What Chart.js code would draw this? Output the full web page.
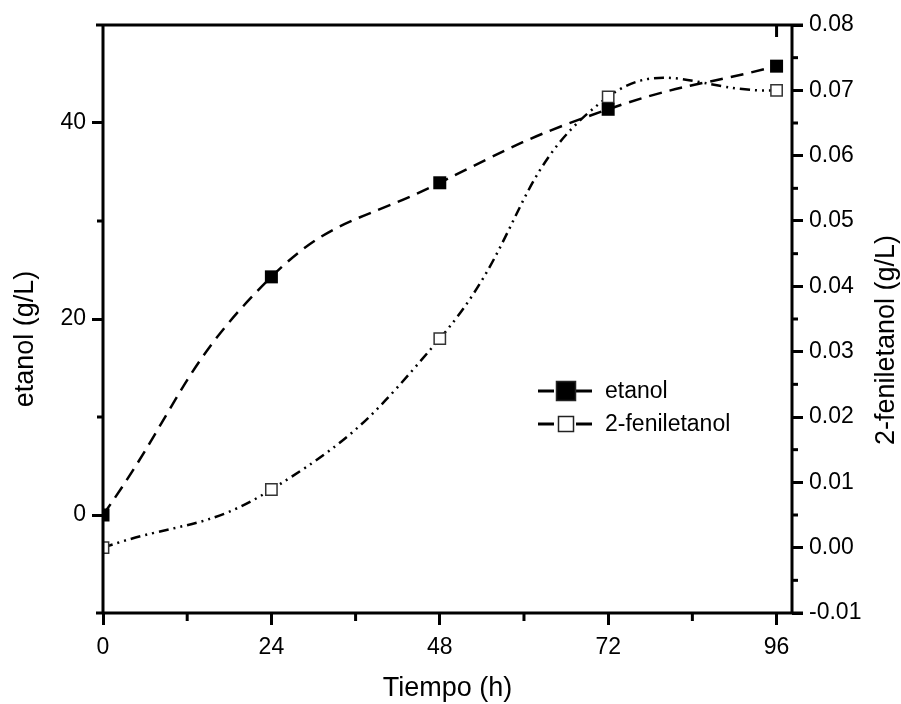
<!DOCTYPE html>
<html>
<head>
<meta charset="utf-8">
<script src="https://cdn.jsdelivr.net/npm/chart.js@4.4.1/dist/chart.umd.min.js"></script>
<style>
  html, body { margin: 0; padding: 0; background: #fff; }
  canvas { display: block; }
</style>
</head>
<body>
<canvas id="chart" width="901" height="704"></canvas>
<script>
// data
const horas = [0, 24, 48, 72, 96];
const etanol = [0, 24.3, 33.9, 41.4, 45.8];
const feniletanol = [0, 0.0089, 0.032, 0.069, 0.070];

// axis ticks
const xTicks = [0, 24, 48, 72, 96];
const etanolTicks = [0, 20, 40];
const fenilTicks = [-0.01, 0, 0.01, 0.02, 0.03, 0.04, 0.05, 0.06, 0.07, 0.08];

const FONT = "'Liberation Sans', Arial, sans-serif";

function pts(xs, ys) {
  return xs.map((x, i) => ({ x: x, y: ys[i] }));
}

// frame, minor ticks, axis titles and legend (Origin style)
const originFrame = {
  id: 'originFrame',
  afterDraw(chart) {
    const { ctx, chartArea: a, scales } = chart;
    const sx = scales.x, sy = scales.y, sy2 = scales.y2;
    const line = (x1, y1, x2, y2) => {
      ctx.beginPath(); ctx.moveTo(x1, y1); ctx.lineTo(x2, y2); ctx.stroke();
    };
    ctx.save();
    ctx.strokeStyle = '#000';
    ctx.lineWidth = 3;
    line(a.left - 7, a.top, a.right + 11, a.top);
    line(a.left - 7, a.bottom, a.right + 11, a.bottom);
    line(a.left, a.top, a.left, a.bottom);
    line(a.right, a.top, a.right, a.bottom);

    // minor ticks
    [12, 36, 60, 84].forEach(v => {
      const px = sx.getPixelForValue(v);
      line(px, a.bottom, px, a.bottom + 8);
    });
    [10, 30].forEach(v => {
      const py = sy.getPixelForValue(v);
      line(a.left - 6, py, a.left, py);
    });
    for (let k = 0; k < 9; k++) {
      const py = sy2.getPixelForValue(-0.005 + 0.01 * k);
      line(a.right, py, a.right + 6, py);
    }
    // top axis tick at 96
    const p96 = sx.getPixelForValue(96);
    line(p96, a.top, p96, a.top + 12);

    // axis titles
    ctx.fillStyle = '#000';
    ctx.font = '27px ' + FONT;
    ctx.textAlign = 'center';
    ctx.textBaseline = 'middle';
    ctx.fillText('Tiempo (h)', (a.left + a.right) / 2, 689);
    ctx.save();
    ctx.translate(26, 339);
    ctx.rotate(-Math.PI / 2);
    ctx.fillText('etanol (g/L)', 0, 0);
    ctx.restore();
    ctx.save();
    ctx.translate(887, 340);
    ctx.rotate(-Math.PI / 2);
    ctx.fillText('2-feniletanol (g/L)', 0, 0);
    ctx.restore();

    // legend
    const rows = [
      { y: 391, label: 'etanol', fill: '#000', size: 19 },
      { y: 424, label: '2-feniletanol', fill: '#fff', size: 15 }
    ];
    ctx.font = '23px ' + FONT;
    ctx.textAlign = 'left';
    rows.forEach(r => {
      ctx.lineWidth = 3;
      ctx.strokeStyle = '#000';
      line(538, r.y, 554, r.y);
      line(576, r.y, 592, r.y);
      ctx.fillStyle = r.fill;
      ctx.fillRect(566 - r.size / 2, r.y - r.size / 2, r.size, r.size);
      ctx.lineWidth = 1.5;
      ctx.strokeStyle = '#222';
      ctx.strokeRect(566 - r.size / 2, r.y - r.size / 2, r.size, r.size);
      ctx.fillStyle = '#000';
      ctx.fillText(r.label, 605, r.y + 1);
    });
    ctx.restore();
  }
};

const tickGrid = (len) => ({
  display: true,
  drawOnChartArea: false,
  drawTicks: true,
  tickLength: len,
  tickWidth: 3,
  tickColor: '#000'
});

new Chart(document.getElementById('chart'), {
  type: 'line',
  data: {
    datasets: [
      {
        label: 'etanol',
        data: pts(horas, etanol),
        yAxisID: 'y',
        borderColor: '#000',
        borderWidth: 2.5,
        borderDash: [13, 8],
        tension: 0.45,
        pointStyle: 'rect',
        pointRadius: 9.2,
        pointBackgroundColor: '#000',
        pointBorderColor: '#000',
        pointBorderWidth: 0,
        clip: 0
      },
      {
        label: '2-feniletanol',
        data: pts(horas, feniletanol),
        yAxisID: 'y2',
        borderColor: '#000',
        borderWidth: 2.5,
        borderDash: [10, 5, 2, 5, 2, 5],
        tension: 0.45,
        pointStyle: 'rect',
        pointRadius: 8,
        pointBackgroundColor: '#fff',
        pointBorderColor: '#333',
        pointBorderWidth: 1.5,
        clip: 0
      }
    ]
  },
  options: {
    responsive: false,
    animation: false,
    layout: { padding: { top: 25, left: 0, right: 0, bottom: 0 } },
    plugins: { legend: { display: false }, tooltip: { enabled: false } },
    scales: {
      x: {
        type: 'linear',
        min: 0,
        max: 98.2,
        grid: tickGrid(12),
        border: { display: false },
        afterBuildTicks: s => { s.ticks = xTicks.map(v => ({ value: v })); },
        afterFit: s => { s.height = 91; },
        ticks: { color: '#000', font: { family: FONT, size: 23 }, padding: 9, maxRotation: 0, autoSkip: false }
      },
      y: {
        type: 'linear',
        position: 'left',
        min: -10,
        max: 50,
        grid: tickGrid(11),
        border: { display: false },
        afterBuildTicks: s => { s.ticks = etanolTicks.map(v => ({ value: v })); },
        afterFit: s => { s.width = 103; },
        ticks: { color: '#000', font: { family: FONT, size: 23 }, padding: 6 }
      },
      y2: {
        type: 'linear',
        position: 'right',
        min: -0.01,
        max: 0.08,
        grid: tickGrid(11),
        border: { display: false },
        afterBuildTicks: s => { s.ticks = fenilTicks.map(v => ({ value: v })); },
        afterFit: s => { s.width = 109; },
        ticks: {
          color: '#000',
          font: { family: FONT, size: 23 },
          padding: 6,
          callback: v => v.toFixed(2)
        }
      }
    }
  },
  plugins: [originFrame]
});
</script>
</body>
</html>
